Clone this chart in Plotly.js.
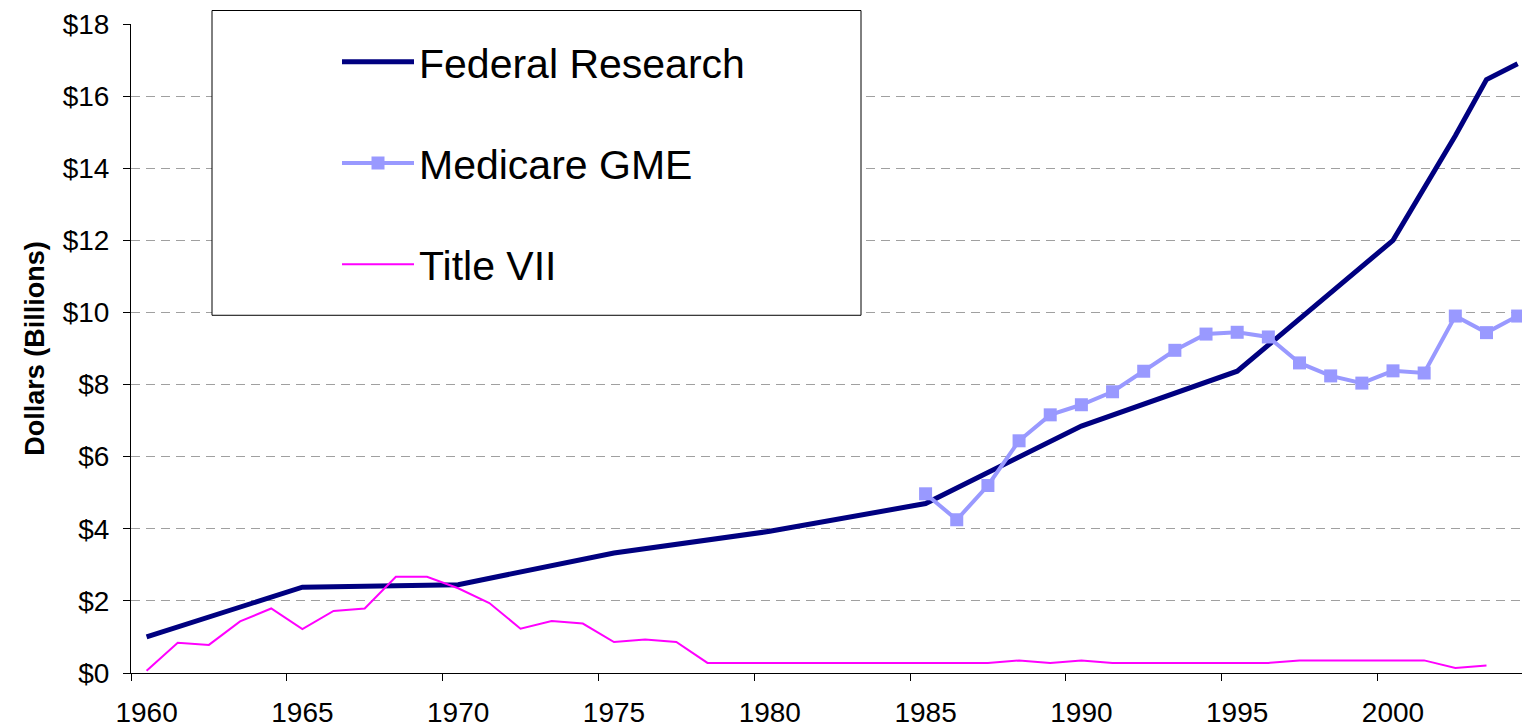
<!DOCTYPE html>
<html>
<head>
<meta charset="utf-8">
<script src="https://cdn.plot.ly/plotly-3.0.1.min.js"></script>
<style>
html,body{margin:0;padding:0;background:#fff;}
#chart{width:1522px;height:727px;}
</style>
</head>
<body>
<div id="chart"></div>
<script>
// ---- data ----
var frYears  = [1960, 1965, 1970, 1975, 1980, 1985, 1990, 1995, 2000, 2002, 2003, 2004];
var frValues = [1.0, 2.38, 2.45, 3.33, 3.93, 4.70, 6.85, 8.37, 12.0, 14.9, 16.46, 16.9];

var medYears  = [1985, 1986, 1987, 1988, 1989, 1990, 1991, 1992, 1993, 1994,
                 1995, 1996, 1997, 1998, 1999, 2000, 2001, 2002, 2003, 2004];
var medValues = [4.97, 4.25, 5.20, 6.44, 7.16, 7.44, 7.80, 8.37, 8.95, 9.40,
                 9.45, 9.32, 8.60, 8.24, 8.04, 8.38, 8.32, 9.90, 9.44, 9.90];

var t7Years  = [1960, 1961, 1962, 1963, 1964, 1965, 1966, 1967, 1968, 1969,
                1970, 1971, 1972, 1973, 1974, 1975, 1976, 1977, 1978, 1979,
                1980, 1981, 1982, 1983, 1984, 1985, 1986, 1987, 1988, 1989,
                1990, 1991, 1992, 1993, 1994, 1995, 1996, 1997, 1998, 1999,
                2000, 2001, 2002, 2003];
var t7Values = [0.06, 0.84, 0.78, 1.43, 1.79, 1.22, 1.72, 1.79, 2.67, 2.67,
                2.35, 1.94, 1.23, 1.44, 1.37, 0.86, 0.93, 0.86, 0.28, 0.28,
                0.28, 0.28, 0.28, 0.28, 0.28, 0.28, 0.28, 0.28, 0.35, 0.28,
                0.35, 0.28, 0.28, 0.28, 0.28, 0.28, 0.28, 0.35, 0.35, 0.35,
                0.35, 0.35, 0.14, 0.21];

var xTickLabels = ['1960', '1965', '1970', '1975', '1980', '1985', '1990', '1995', '2000'];
var yTickValues = [0, 2, 4, 6, 8, 10, 12, 14, 16, 18];

// ---- chart ----
var FONT = 'Liberation Sans, Arial, sans-serif';

var traces = [
  {
    x: frYears, y: frValues, type: 'scatter', mode: 'lines',
    name: 'Federal Research', legendgroup: 'a',
    line: {color: '#000080', width: 5}
  },
  {
    x: medYears, y: medValues, type: 'scatter', mode: 'lines+markers',
    name: 'Medicare GME', legendgroup: 'b',
    line: {color: '#9999FF', width: 4},
    marker: {symbol: 'square', size: 13, color: '#9999FF'}
  },
  {
    x: t7Years, y: t7Values, type: 'scatter', mode: 'lines',
    name: 'Title VII', legendgroup: 'c',
    line: {color: '#FF00FF', width: 2}
  }
];

var plotL = 131, plotR = 1522, plotT = 23.5, plotB = 673;
var pw = plotR - plotL, ph = plotB - plotT;
function px(x) { return (x - plotL) / pw; }
function py(y) { return (plotB - y) / ph; }

var layout = {
  width: 1522, height: 727,
  margin: {l: plotL, r: 1522 - plotR, t: plotT, b: 727 - plotB, pad: 0},
  paper_bgcolor: '#ffffff', plot_bgcolor: '#ffffff',
  font: {family: FONT, color: '#000000', size: 28},
  showlegend: true,
  legend: {
    x: px(337), y: py(28), xanchor: 'left', yanchor: 'top',
    bgcolor: 'rgba(0,0,0,0)', borderwidth: 0,
    font: {family: FONT, size: 41, color: '#000000'},
    tracegroupgap: 45, itemwidth: 72, traceorder: 'grouped'
  },
  xaxis: {
    range: [1959.5, 2004.14],
    tickmode: 'array',
    tickvals: xTickLabels.map(function (s) { return Number(s); }),
    ticktext: xTickLabels,
    ticks: '', ticklabelstandoff: 14,
    minor: {tickmode: 'linear', tick0: 1959.5, dtick: 5, ticks: 'outside', ticklen: 7, tickcolor: '#000', tickwidth: 1, showgrid: false},
    showline: true, linecolor: '#000', linewidth: 1,
    showgrid: false, zeroline: false,
    tickfont: {family: FONT, size: 28, color: '#000'}
  },
  yaxis: {
    range: [0, 18],
    tickmode: 'array',
    tickvals: yTickValues,
    ticktext: yTickValues.map(function (v) { return '$' + v; }),
    ticks: 'outside', ticklen: 7, tickcolor: '#000', tickwidth: 1,
    ticklabelstandoff: 8,
    showline: true, linecolor: '#000', linewidth: 1,
    showgrid: true, gridcolor: '#a0a0a0', gridwidth: 1, griddash: '9px,6px',
    zeroline: false,
    tickfont: {family: FONT, size: 28, color: '#000'},
    title: {text: '<b>Dollars (Billions)</b>', font: {family: FONT, size: 27, color: '#000'}, standoff: 10}
  },
  shapes: [
    {
      type: 'rect', xref: 'paper', yref: 'paper', layer: 'above',
      x0: px(212), x1: px(861), y0: py(315), y1: py(10),
      line: {color: '#000000', width: 1}, fillcolor: '#ffffff'
    }
  ]
};

Plotly.newPlot('chart', traces, layout, {displayModeBar: false, staticPlot: true});
</script>
</body>
</html>
